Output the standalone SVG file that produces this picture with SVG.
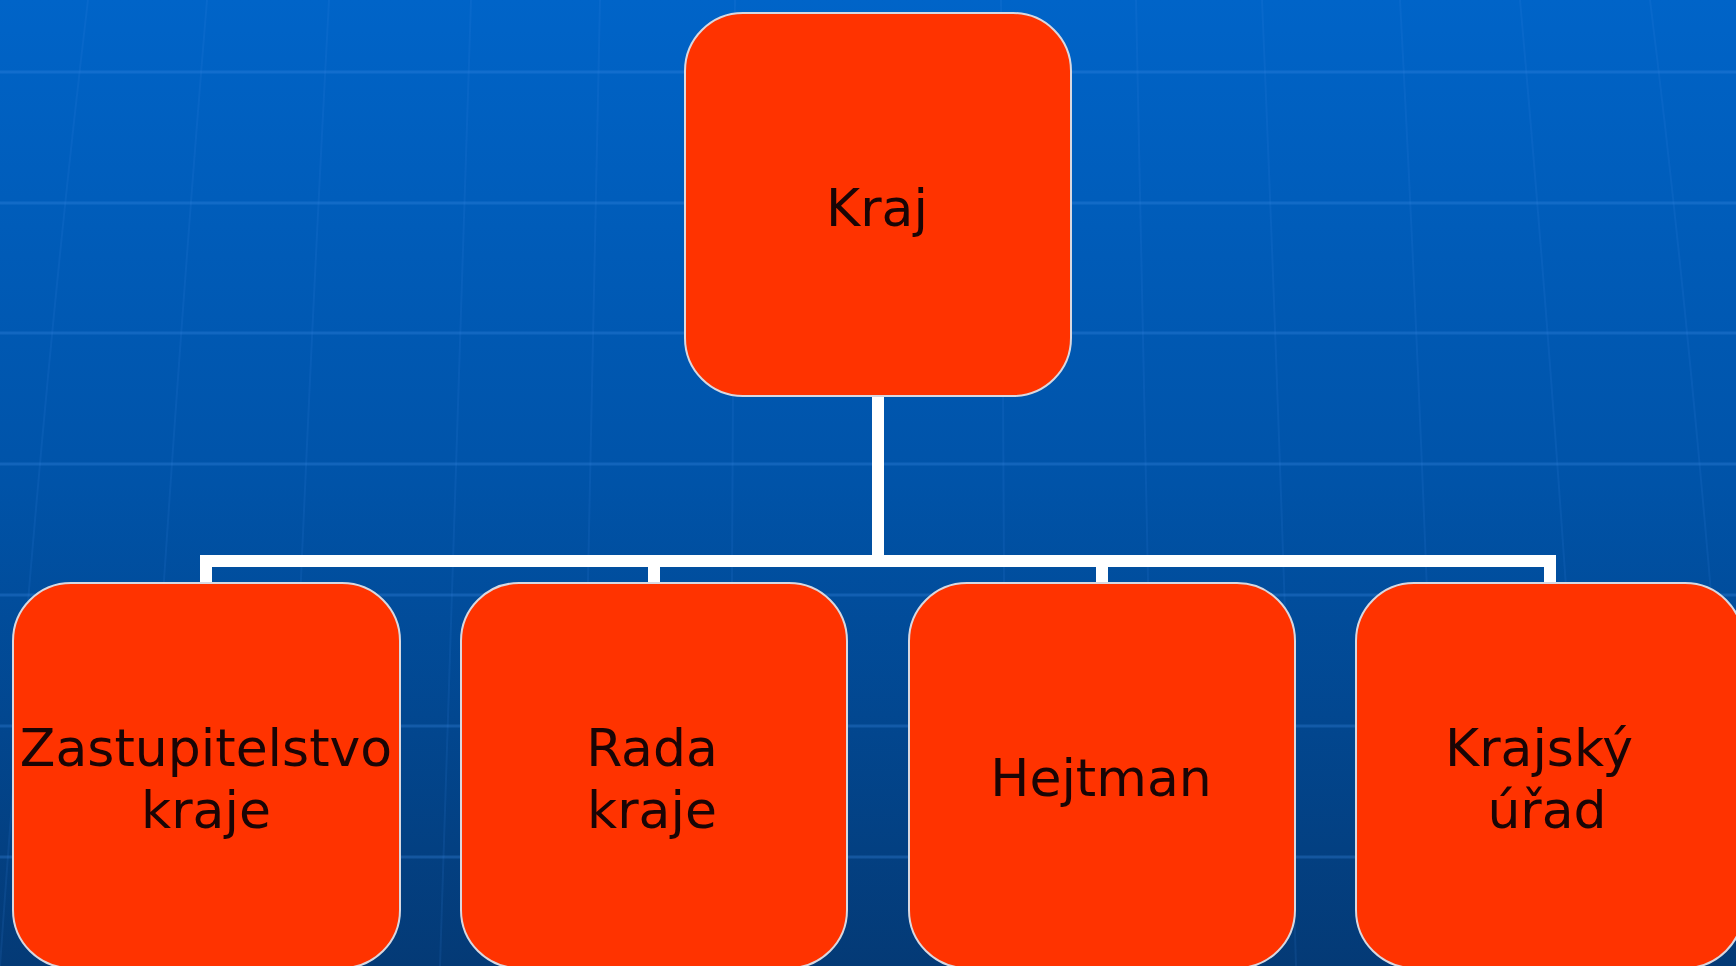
<svg xmlns="http://www.w3.org/2000/svg" width="1736" height="966" viewBox="0 0 1736 966">
  <defs>
    <linearGradient id="bg" x1="0" y1="0" x2="0" y2="1">
      <stop offset="0" stop-color="#0064c8"/>
      <stop offset="0.5" stop-color="#0053a8"/>
      <stop offset="1" stop-color="#043a76"/>
    </linearGradient>
    <style>
      .grid { stroke: #3a8ae6; stroke-width: 3; fill: none; opacity: 0.3; }
      .vgrid { stroke: #3a8ae6; stroke-width: 2; fill: none; opacity: 0.13; }
      .box { fill: #ff3300; stroke: #d8d8e0; stroke-width: 2; }
      .lbl { font-family: "DejaVu Sans", Verdana, sans-serif; font-size: 52px; fill: #1a0505; text-anchor: middle; }
      .conn { stroke: #ffffff; stroke-width: 12; fill: none; stroke-linejoin: miter; }
    </style>
  </defs>
  <rect x="0" y="0" width="1736" height="966" fill="url(#bg)"/>
  <g id="background-grid">
    <line class="grid" x1="0" y1="72" x2="1736" y2="72"/>
    <line class="grid" x1="0" y1="203" x2="1736" y2="203"/>
    <line class="grid" x1="0" y1="333" x2="1736" y2="333"/>
    <line class="grid" x1="0" y1="464" x2="1736" y2="464"/>
    <line class="grid" x1="0" y1="595" x2="1736" y2="595"/>
    <line class="grid" x1="0" y1="726" x2="1736" y2="726"/>
    <line class="grid" x1="0" y1="857" x2="1736" y2="857"/>
    <path class="vgrid" d="M88 0 Q40 400 0 966"/>
    <path class="vgrid" d="M207 0 Q170 450 140 966"/>
    <path class="vgrid" d="M329 0 Q305 450 285 966"/>
    <path class="vgrid" d="M471 0 Q455 450 440 966"/>
    <path class="vgrid" d="M600 0 Q590 450 580 966"/>
    <path class="vgrid" d="M735 0 L730 966"/>
    <path class="vgrid" d="M1001 0 L1006 966"/>
    <path class="vgrid" d="M1136 0 Q1146 450 1156 966"/>
    <path class="vgrid" d="M1262 0 Q1281 450 1296 966"/>
    <path class="vgrid" d="M1400 0 Q1424 450 1440 966"/>
    <path class="vgrid" d="M1520 0 Q1560 450 1590 966"/>
    <path class="vgrid" d="M1650 0 Q1700 400 1740 966"/>
  </g>
  <g id="connectors">
    <path class="conn" d="M878 396 V561"/>
    <path class="conn" d="M206 584 V561 H1550 V584"/>
    <path class="conn" d="M654 561 V584"/>
    <path class="conn" d="M1102 561 V584"/>
  </g>
  <g id="node-kraj">
    <rect class="box" x="685" y="13" width="386" height="383" rx="58" ry="58"/>
    <text class="lbl" x="877" y="226">Kraj</text>
  </g>
  <g id="node-zastupitelstvo">
    <rect class="box" x="13" y="583" width="387" height="385" rx="58" ry="58"/>
    <text class="lbl" x="206" y="766">Zastupitelstvo</text>
    <text class="lbl" x="206" y="828">kraje</text>
  </g>
  <g id="node-rada">
    <rect class="box" x="461" y="583" width="386" height="385" rx="58" ry="58"/>
    <text class="lbl" x="652" y="766">Rada</text>
    <text class="lbl" x="652" y="828">kraje</text>
  </g>
  <g id="node-hejtman">
    <rect class="box" x="909" y="583" width="386" height="385" rx="58" ry="58"/>
    <text class="lbl" x="1101" y="796">Hejtman</text>
  </g>
  <g id="node-krajsky-urad">
    <rect class="box" x="1356" y="583" width="387" height="385" rx="58" ry="58"/>
    <text class="lbl" x="1539" y="766">Krajský</text>
    <text class="lbl" x="1547" y="828">úřad</text>
  </g>
</svg>
